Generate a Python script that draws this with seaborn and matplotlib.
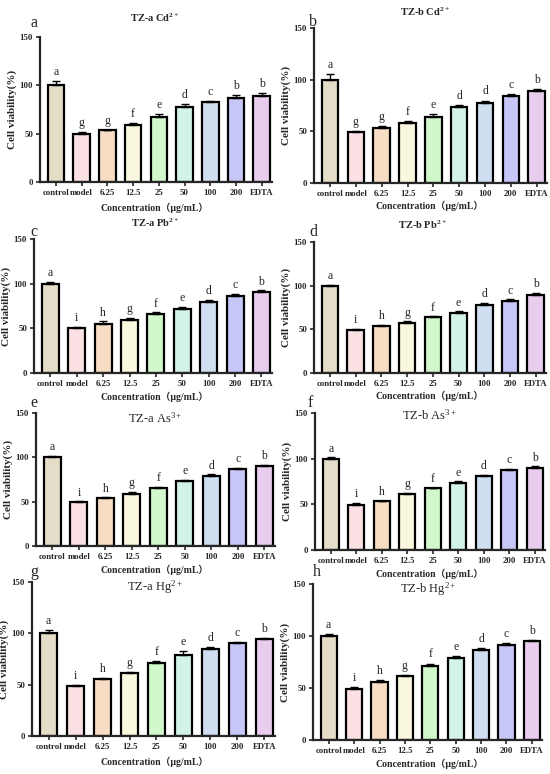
import matplotlib
matplotlib.use("Agg")
import matplotlib.pyplot as plt
import seaborn as sns
import numpy as np
import pandas as pd

sns.set_style("ticks")
plt.rcParams['font.family'] = ['Liberation Serif', 'DejaVu Serif']
plt.rcParams['mathtext.fontset'] = 'custom'
plt.rcParams['mathtext.rm'] = 'Liberation Serif'
plt.rcParams['mathtext.bf'] = 'Liberation Serif:bold'
plt.rcParams['mathtext.it'] = 'Liberation Serif:italic'

categories = ["control", "model", "6.25", "12.5", "25", "50", "100", "200", "EDTA"]
bar_colors = ["#E9E1C3", "#FFDDE0", "#FFDDBB", "#FFFBDA", "#CCFFC4",
              "#CCF8E8", "#C9DDF5", "#BFBFFF", "#EBC8F3"]

# Panel a: TZ-a Cd2+
a_vals = [100, 49.5, 53.3, 58.9, 67.3, 78.0, 83.1, 87.2, 89.3]
a_errs = [5, 2, 1, 2.5, 3.5, 2.5, 1, 2.5, 3]
a_lets = ["a", "g", "g", "f", "e", "d", "c", "b", "b"]
# Panel b: TZ-b Cd2+
b_vals = [100, 49.5, 53.4, 58.4, 64.2, 73.6, 77.8, 84.0, 89.3]
b_errs = [5, 1, 2, 1.5, 2.5, 2, 2, 2, 1.5]
b_lets = ["a", "g", "g", "f", "e", "d", "d", "c", "b"]
# Panel c: TZ-a Pb2+
c_vals = [100, 50.0, 54.9, 59.4, 65.8, 72.0, 79.7, 85.7, 90.2]
c_errs = [2, 1.5, 3, 2, 2, 2, 2, 3, 2.5]
c_lets = ["a", "i", "h", "g", "f", "e", "d", "c", "b"]
# Panel d: TZ-b Pb2+
d_vals = [100, 49.8, 53.6, 57.8, 63.9, 69.2, 77.6, 82.9, 89.0]
d_errs = [1, 1, 1.5, 1.5, 1, 1.5, 2.5, 1.5, 3]
d_lets = ["a", "i", "h", "g", "f", "e", "d", "c", "b"]
# Panel e: TZ-a As3+
e_vals = [100, 49.4, 54.0, 59.2, 65.7, 72.8, 79.2, 86.4, 90.2]
e_errs = [2, 1, 0.8, 2, 1, 1.5, 1.5, 1.5, 1.5]
e_lets = ["a", "i", "h", "g", "f", "e", "d", "c", "b"]
# Panel f: TZ-b As3+
f_vals = [100, 49.0, 53.6, 60.9, 67.4, 73.2, 80.8, 87.7, 90.2]
f_errs = [1.5, 2.5, 0.5, 1.5, 1, 2, 1.5, 0.8, 1.5]
f_lets = ["a", "i", "h", "g", "f", "e", "d", "c", "b"]
# Panel g: TZ-a Hg2+
g_vals = [100, 49.0, 55.2, 61.1, 70.9, 79.0, 85.0, 90.2, 94.1]
g_errs = [3, 1, 1, 1.5, 2, 3.5, 2, 1, 1.5]
g_lets = ["a", "i", "h", "g", "f", "e", "d", "c", "b"]
# Panel h: TZ-b Hg2+
h_vals = [100, 49.0, 55.8, 61.3, 71.0, 79.0, 86.1, 91.6, 95.2]
h_errs = [2, 1.5, 2, 1.5, 2.5, 2, 2, 1.5, 1]
h_lets = ["a", "i", "h", "g", "f", "e", "d", "c", "b"]

titles = [r"TZ-a Cd$^{\mathbf{2+}}$", r"TZ-b Cd$^{\mathbf{2+}}$",
          r"TZ-a Pb$^{\mathbf{2+}}$", r"TZ-b Pb$^{\mathbf{2+}}$",
          r"TZ-a As$^{3+}$", r"TZ-b As$^{3+}$",
          r"TZ-a Hg$^{2+}$", r"TZ-b Hg$^{2+}$"]
panel_letters = ["a", "b", "c", "d", "e", "f", "g", "h"]

W, H = 550, 774
fig = plt.figure(figsize=(5.5, 7.74), dpi=100)

def px_axes(left, top, right, bottom):
    return fig.add_axes([left / W, 1 - bottom / H, (right - left) / W, (bottom - top) / H])

# (left, top, right, bottom) in pixels
boxes = [(40, 37, 272, 182), (314, 28, 547, 183),
         (34, 239, 272, 373), (314, 242, 546, 373),
         (36, 413, 275, 546), (315, 413, 545, 550),
         (32, 582, 275, 736), (313, 584, 542, 740)]
title_pos = [(155, 18), (425, 12), (155, 223), (422, 225),
             (155, 418), (430, 415), (155, 587), (428, 589)]
letter_pos = [(34, 23), (313, 22), (34, 232), (313, 232),
              (34, 403), (310, 403), (34, 572), (317, 572)]
xlabel_pos = [(155, 208), (430, 206), (155, 397), (430, 396),
              (155, 570), (430, 574), (155, 762), (430, 764)]

panels = [(a_vals, a_errs, a_lets), (b_vals, b_errs, b_lets),
          (c_vals, c_errs, c_lets), (d_vals, d_errs, d_lets),
          (e_vals, e_errs, e_lets), (f_vals, f_errs, f_lets),
          (g_vals, g_errs, g_lets), (h_vals, h_errs, h_lets)]

for i, ((vals, errs, lets), box) in enumerate(zip(panels, boxes)):
    ax = px_axes(*box)
    df = pd.DataFrame({"cat": categories, "val": vals})
    sns.barplot(data=df, x="cat", y="val", hue="cat", palette=bar_colors,
                legend=False, errorbar=None, width=0.64,
                edgecolor="black", linewidth=1.6, ax=ax)
    xs = np.arange(len(categories))
    ax.errorbar(xs, vals, yerr=[np.zeros(len(vals)), errs], fmt="none",
                ecolor="black", elinewidth=1.0, capsize=2.8, capthick=1.0)
    for x, v, e, l in zip(xs, vals, errs, lets):
        ax.text(x, v + e + 3, l, ha="center", va="bottom", fontsize=8.5)
    ax.set_ylim(0, 150)
    ax.set_xlim(-0.62, 8.4)
    ax.set_yticks([0, 50, 100, 150])
    ax.set_xlabel("")
    ax.set_ylabel("Cell viability(%)", fontsize=8, fontweight="bold", labelpad=2)
    for lab in ax.get_xticklabels() + ax.get_yticklabels():
        lab.set_fontweight("bold")
    ax.tick_params(axis="both", labelsize=6.3, width=1.2, length=3, pad=2)
    for s in ["top", "right"]:
        ax.spines[s].set_visible(False)
    for s in ["left", "bottom"]:
        ax.spines[s].set_linewidth(1.6)

    tx, ty = title_pos[i]
    if i < 4:
        fig.text(tx / W, 1 - ty / H, titles[i], ha="center", va="center",
                 fontsize=7.6, fontweight="bold")
    else:
        fig.text(tx / W, 1 - ty / H, titles[i], ha="center", va="center",
                 fontsize=9)
    lx, ly = letter_pos[i]
    fig.text(lx / W, 1 - ly / H, panel_letters[i], ha="center", va="center",
             fontsize=11.5)
    xx, xy = xlabel_pos[i]
    fig.text(xx / W, 1 - xy / H, "Concentration（μg/mL）", ha="center", va="center",
             fontsize=7, fontweight="bold",
             family=["Liberation Serif", "Noto Sans CJK SC", "DejaVu Sans"])

fig.savefig("out.png", dpi=100)
